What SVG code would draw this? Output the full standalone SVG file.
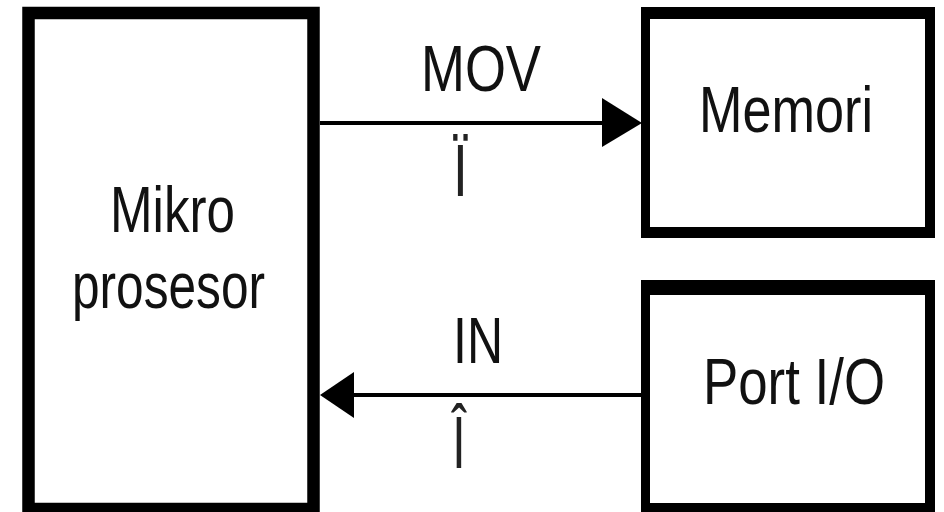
<svg xmlns="http://www.w3.org/2000/svg" width="944" height="512" viewBox="0 0 944 512">
<style>
.box{fill:#fff;stroke:#000}
.lbl{font-family:"Liberation Sans",Arial,sans-serif;font-size:64px;fill:#111}
.sym{font-family:"Liberation Sans",Arial,sans-serif;font-size:74px;fill:#222;text-anchor:middle}
.wire{stroke:#000;stroke-width:4;fill:none}
.head{fill:#000}
</style>
<rect width="944" height="512" fill="#fff"/>
<g id="mikroprosesor">
<rect class="box" x="28.5" y="13" width="285" height="496" stroke-width="12.5"/>
<text class="lbl" x="110" y="232" textLength="125" lengthAdjust="spacingAndGlyphs">Mikro</text>
<text class="lbl" x="72" y="308" textLength="193" lengthAdjust="spacingAndGlyphs">prosesor</text>
</g>
<g id="memori">
<path d="M641 7H935V238H641Z M650 19V227H925V19Z" fill="#000" fill-rule="evenodd"/>
<text class="lbl" x="699" y="132" textLength="174" lengthAdjust="spacingAndGlyphs">Memori</text>
</g>
<g id="port-io">
<path d="M641 280H935V512H641Z M650 295V503H925V295Z" fill="#000" fill-rule="evenodd"/>
<text class="lbl" x="703" y="404" textLength="182" lengthAdjust="spacingAndGlyphs">Port I/O</text>
</g>
<g id="connectors">
<line class="wire" x1="320" y1="123" x2="604" y2="123"/>
<polygon class="head" points="602,98 642,123 602,147"/>
<text class="lbl" x="421" y="91" textLength="120" lengthAdjust="spacingAndGlyphs">MOV</text>
<text class="sym" transform="translate(460.5,196) scale(0.72,1)">Ï</text>
<line class="wire" x1="352" y1="395" x2="641" y2="395"/>
<polygon class="head" points="320,395 354,372 354,418"/>
<text class="lbl" x="453" y="363" textLength="50" lengthAdjust="spacingAndGlyphs">IN</text>
<text class="sym" transform="translate(459,468) scale(0.65,1)">Î</text>
</g>
</svg>
